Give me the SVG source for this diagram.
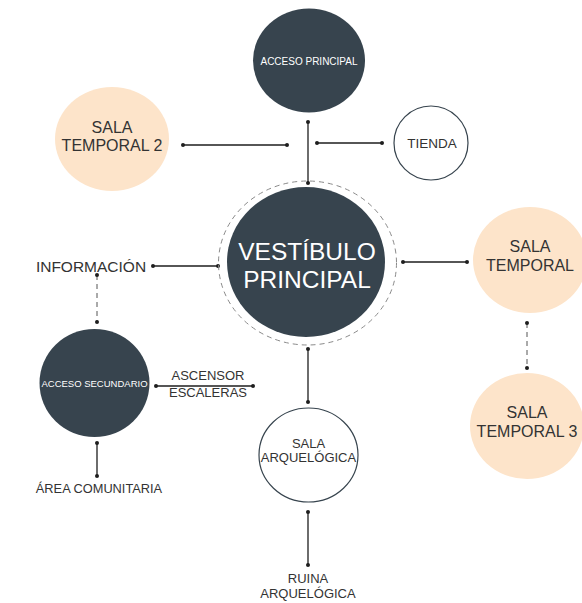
<svg xmlns="http://www.w3.org/2000/svg" width="582" height="603" viewBox="0 0 582 603">
<style>
.dark{fill:#37444e}
.peach{fill:#fde4ca}
.outline{fill:#fff;stroke:#37444e;stroke-width:1.2}
.ring{fill:none;stroke:#8a8a8a;stroke-width:1;stroke-dasharray:5 4}
text{font-family:"Liberation Sans",Arial,sans-serif;text-anchor:middle}
.w{fill:#fff}
.g{fill:#333}
.line{stroke:#1e1e1e;stroke-width:1.3;fill:none}
.dash{stroke:#555;stroke-width:1;stroke-dasharray:5 4;fill:none}
</style>
<defs>
<marker id="d" viewBox="0 0 6 6" refX="3" refY="3" markerWidth="4" markerHeight="4" markerUnits="userSpaceOnUse"><circle cx="3" cy="3" r="3" fill="#1e1e1e"/></marker>
</defs>
<g id="connectors">
<line class="line" x1="308" y1="122" x2="308" y2="183" marker-start="url(#d)" marker-end="url(#d)"/>
<line class="line" x1="183" y1="145" x2="287" y2="145" marker-start="url(#d)" marker-end="url(#d)"/>
<line class="line" x1="317" y1="143" x2="382" y2="143" marker-start="url(#d)" marker-end="url(#d)"/>
<line class="line" x1="153" y1="266" x2="218" y2="266" marker-start="url(#d)" marker-end="url(#d)"/>
<line class="dash" x1="97" y1="275" x2="97" y2="322" marker-start="url(#d)" marker-end="url(#d)"/>
<line class="line" x1="156" y1="386" x2="253" y2="386" marker-start="url(#d)" marker-end="url(#d)"/>
<line class="line" x1="97" y1="443" x2="97" y2="476" marker-start="url(#d)" marker-end="url(#d)"/>
<line class="line" x1="308" y1="349" x2="308" y2="402" marker-start="url(#d)" marker-end="url(#d)"/>
<line class="line" x1="308" y1="512" x2="308" y2="565" marker-start="url(#d)" marker-end="url(#d)"/>
<line class="line" x1="403" y1="262" x2="467" y2="262" marker-start="url(#d)" marker-end="url(#d)"/>
<line class="dash" x1="527" y1="323" x2="527" y2="368" marker-start="url(#d)" marker-end="url(#d)"/>
</g>
<g id="acceso-principal">
<ellipse class="dark" cx="309" cy="60.5" rx="56" ry="52"/>
<text class="w" x="309" y="65" font-size="10">ACCESO PRINCIPAL</text>
</g>
<g id="sala-temporal-2">
<ellipse class="peach" cx="112" cy="139" rx="57" ry="52"/>
<text class="g" x="112" y="133" font-size="16">SALA</text>
<text class="g" x="112" y="151" font-size="16">TEMPORAL 2</text>
</g>
<g id="tienda">
<ellipse class="outline" cx="431" cy="143" rx="37" ry="37"/>
<text class="g" x="432" y="148" font-size="13.5">TIENDA</text>
</g>
<g id="vestibulo">
<ellipse class="ring" cx="307.5" cy="263" rx="89" ry="82"/>
<ellipse class="dark" cx="306" cy="262" rx="79" ry="75"/>
<text class="w" x="307" y="260" font-size="24.5">VESTÍBULO</text>
<text class="w" x="307" y="288" font-size="24.5">PRINCIPAL</text>
</g>
<g id="informacion">
<text class="g" x="91" y="272" font-size="15.5">INFORMACIÓN</text>
</g>
<g id="acceso-secundario">
<ellipse class="dark" cx="94.5" cy="383" rx="55" ry="54"/>
<text class="w" x="94.5" y="387" font-size="9.5">ACCESO SECUNDARIO</text>
</g>
<g id="ascensor">
<text class="g" x="208" y="380" font-size="13">ASCENSOR</text>
<text class="g" x="208" y="397" font-size="13">ESCALERAS</text>
</g>
<g id="area-comunitaria">
<text class="g" x="99" y="493" font-size="12.8">ÁREA COMUNITARIA</text>
</g>
<g id="sala-arqueologica">
<ellipse class="outline" cx="308.5" cy="455" rx="49.5" ry="47"/>
<text class="g" x="308.5" y="448" font-size="13">SALA</text>
<text class="g" x="308.5" y="462" font-size="13">ARQUELÓGICA</text>
</g>
<g id="ruina-arqueologica">
<text class="g" x="308" y="583" font-size="13">RUINA</text>
<text class="g" x="308" y="598" font-size="13">ARQUELÓGICA</text>
</g>
<g id="sala-temporal">
<ellipse class="peach" cx="530" cy="260" rx="57" ry="53"/>
<text class="g" x="530" y="252" font-size="16">SALA</text>
<text class="g" x="530" y="271" font-size="16">TEMPORAL</text>
</g>
<g id="sala-temporal-3">
<ellipse class="peach" cx="527" cy="426" rx="57" ry="53"/>
<text class="g" x="527" y="418" font-size="16">SALA</text>
<text class="g" x="527" y="437" font-size="16">TEMPORAL 3</text>
</g>
</svg>
